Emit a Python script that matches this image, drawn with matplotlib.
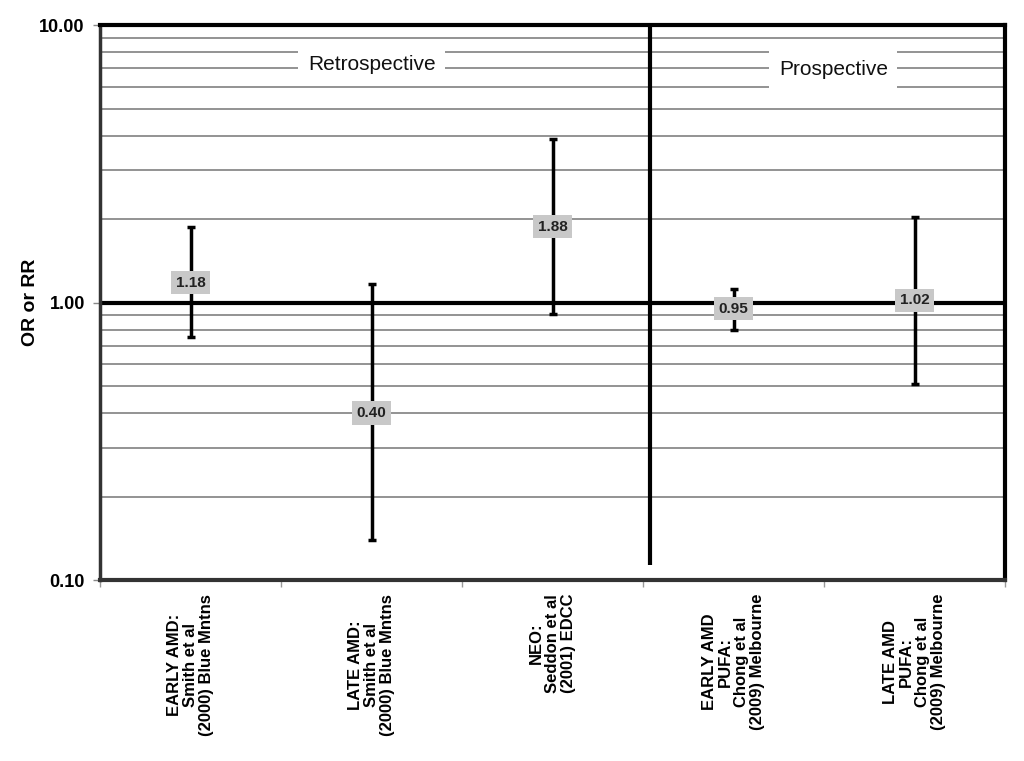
import numpy as np
import matplotlib.pyplot as plt
from matplotlib.ticker import FixedLocator, NullFormatter

plt.rcParams["font.family"] = ["Liberation Sans", "DejaVu Sans"]

categories = [
    "EARLY AMD:\nSmith et al\n(2000) Blue Mntns",
    "LATE AMD:\nSmith et al\n(2000) Blue Mntns",
    "NEO:\nSeddon et al\n(2001) EDCC",
    "EARLY AMD\nPUFA:\nChong et al\n(2009) Melbourne",
    "LATE AMD\nPUFA:\nChong et al\n(2009) Melbourne",
]
estimate = [1.18, 0.40, 1.88, 0.95, 1.02]
ci_low = [0.75, 0.14, 0.91, 0.80, 0.51]
ci_high = [1.87, 1.17, 3.88, 1.12, 2.03]

x = np.arange(len(categories))
est = np.array(estimate)
lo = np.array(ci_low)
hi = np.array(ci_high)

fig = plt.figure(figsize=(10.24, 7.61), dpi=100)
ax = fig.add_axes([0.0977, 0.2378, 0.884, 0.729])
ax.set_yscale("log")
ax.set_ylim(0.1, 10)
ax.set_xlim(-0.5, len(categories) - 0.5)

# minor gridlines at 2..9 of each decade
grid_vals = [m * 10.0**d for d in (-1, 0) for m in range(2, 10)]
for g in grid_vals:
    ax.axhline(g, color="#808080", lw=1.2, zorder=1)
ax.axhline(1.0, color="black", lw=3, zorder=2)

# divider between retrospective and prospective studies
ax.plot([2.54, 2.54], [0.113, 10], color="black", lw=3, zorder=2, solid_capstyle="butt")

ax.errorbar(x, est, yerr=[est - lo, hi - est], fmt="none", ecolor="black",
            elinewidth=2.5, capsize=3, capthick=2.5, zorder=3)

for xi, v in zip(x, estimate):
    ax.text(xi, v, f"{v:.2f}", ha="center", va="center", fontsize=11,
            fontweight="bold", color="#222222", zorder=4,
            bbox=dict(boxstyle="square,pad=0.3", fc="#c8c8c8", ec="none"))

ax.text(1.0, 7.2, "Retrospective", ha="center", va="center", fontsize=15,
        color="#111111", zorder=4,
        bbox=dict(boxstyle="square,pad=0.45", fc="white", ec="none"))
ax.text(3.55, 6.9, "Prospective", ha="center", va="center", fontsize=15,
        color="#111111", zorder=4,
        bbox=dict(boxstyle="square,pad=0.45", fc="white", ec="none"))

ax.yaxis.set_major_locator(FixedLocator([0.1, 1, 10]))
ax.yaxis.set_minor_formatter(NullFormatter())
ax.yaxis.set_minor_locator(FixedLocator([]))
ax.set_yticklabels(["0.10", "1.00", "10.00"], fontsize=13, fontweight="bold")
ax.tick_params(axis="y", length=5, color="#888888", width=1, pad=6)
ax.set_ylabel("OR or RR", fontsize=14, fontweight="bold", labelpad=0)

ax.set_xticks(x)
ax.set_xticklabels(categories, rotation=90, fontsize=12, fontweight="bold",
                   multialignment="center", va="top", ha="center",
                   linespacing=1.08)
ax.tick_params(axis="x", which="major", length=0, pad=10)
ax.set_xticks(np.arange(-0.5, len(categories)), minor=True)
ax.tick_params(axis="x", which="minor", length=5, color="#999999", width=1)

for side in ("top", "right"):
    ax.spines[side].set_linewidth(3)
    ax.spines[side].set_color("black")
ax.spines["left"].set_linewidth(2.5)
ax.spines["left"].set_color("#333333")
ax.spines["bottom"].set_linewidth(3)
ax.spines["bottom"].set_color("#333333")

fig.savefig("out.png", dpi=100)
